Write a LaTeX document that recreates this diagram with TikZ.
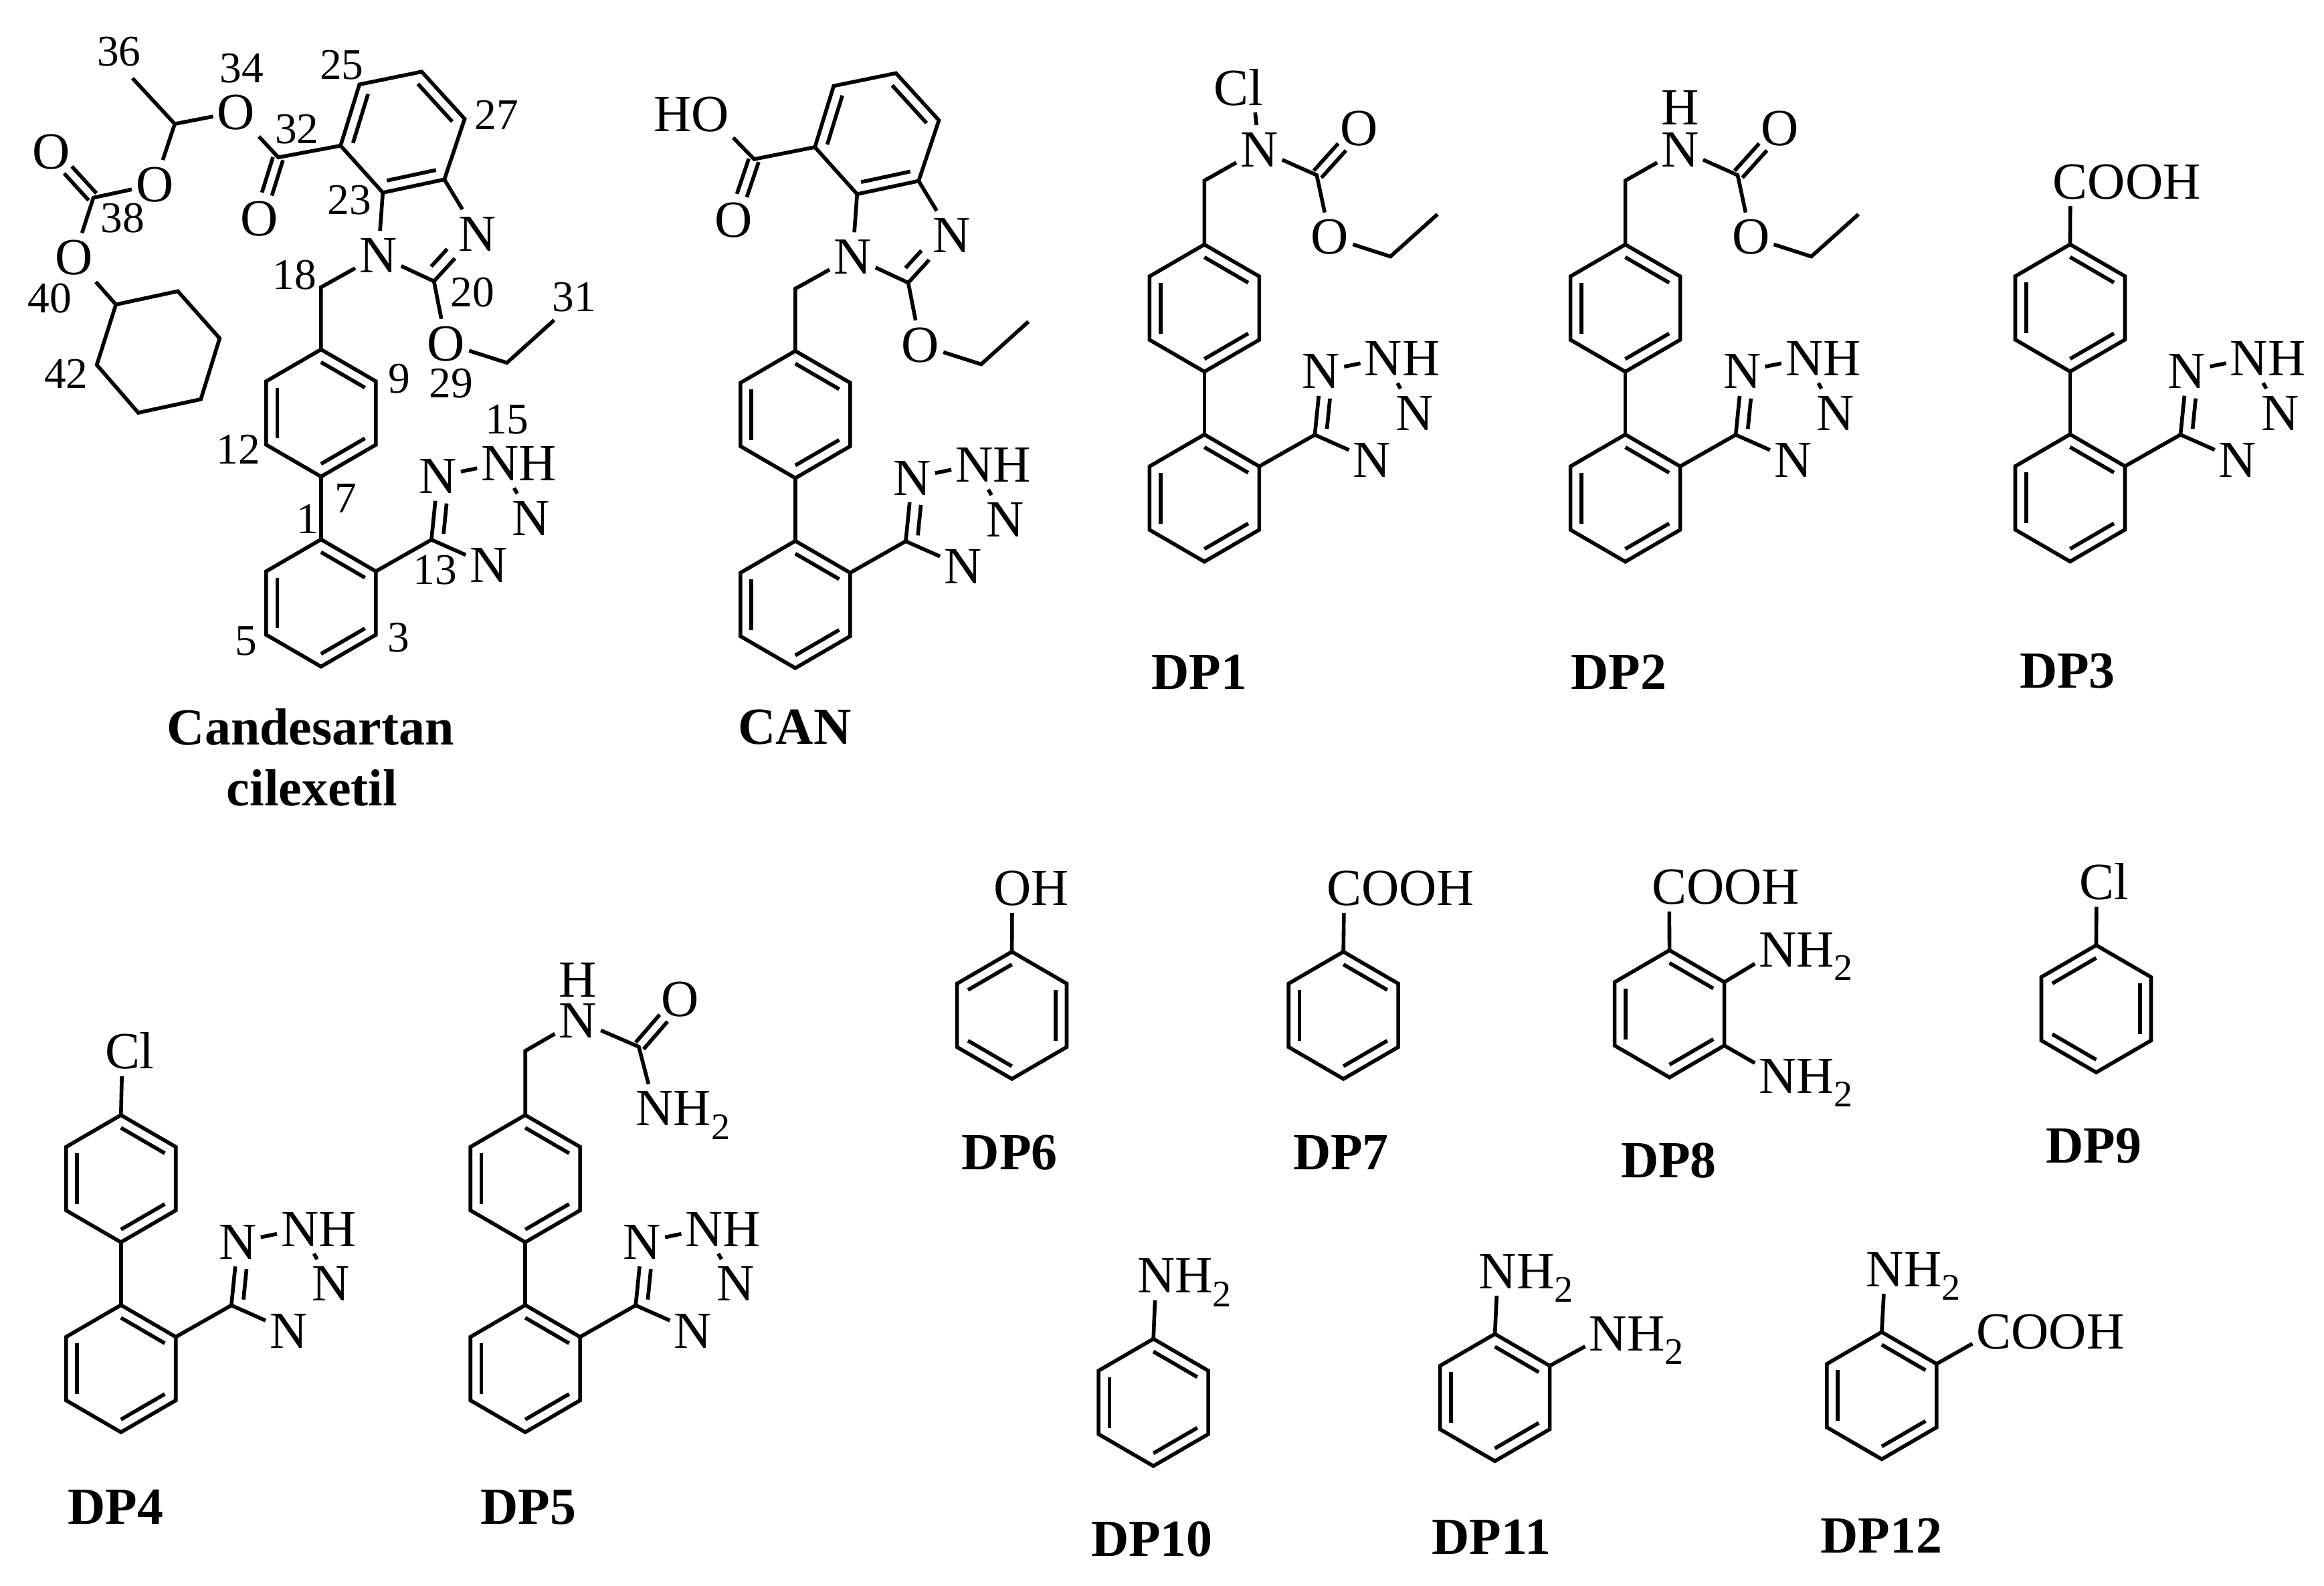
\documentclass[tikz,border=0pt]{standalone}
\usepackage{fontspec}
\setmainfont{Liberation Serif}
\usetikzlibrary{calc}
\usetikzlibrary{positioning}

\newcommand{\subtwo}{\raisebox{-2.6pt}{\fontsize{7.2}{7.2}\selectfont 2}}
\newcommand{\inbond}[3]{\draw[bond] ($(#1)!0.8!(#2)$) -- ($(#1)!0.8!(#3)$);}
% bond plus a shorter line beside it
\newcommand{\dbl}[5]{
	\draw[bond] (#1) -- (#2);
	\draw[bond] ($(#1)!#4!(#2)!#3!90:(#2)$) -- ($(#1)!#5!(#2)!#3!90:(#2)$);
}
% two lines either side of the axis, for C=O
\newcommand{\cdbl}[2]{
	\draw[bond] ($(#1)!0.02!(#2)!1pt!90:(#2)$) -- ($(#1)!0.6!(#2)!1pt!90:(#2)$);
	\draw[bond] ($(#1)!0.02!(#2)!-1pt!90:(#2)$) -- ($(#1)!0.6!(#2)!-1pt!90:(#2)$);
}
\newcommand{\ringsix}[4]{
	\begin{scope}[shift={(#2,#3)}]
		\coordinate (#1-o) at (0,0);
		\coordinate (#1-t) at (0,-42.9);
		\coordinate (#1-ur) at ({(#4)*37},-21.4);
		\coordinate (#1-lr) at ({(#4)*37},21.4);
		\coordinate (#1-bt) at (0,42.9);
		\coordinate (#1-ll) at ({(-1)*(#4)*37},21.4);
		\coordinate (#1-ul) at ({(-1)*(#4)*37},-21.4);
		\draw[bond] (#1-t) -- (#1-ur) -- (#1-lr) -- (#1-bt) -- (#1-ll) -- (#1-ul) -- cycle;
		\inbond{#1-o}{#1-t}{#1-ur}
		\inbond{#1-o}{#1-lr}{#1-bt}
		\inbond{#1-o}{#1-ll}{#1-ul}
	\end{scope}
}
\newcommand{\tetrazole}[3]{
	\begin{scope}[shift={(#2,#3)}]
		\coordinate (#1-c) at (0,0);
		\node[atom] (#1-n1) at (4.3,-42.8) {N};
		\node[atom] (#1-n2) at (46.3,-51.4) {N};
		\node[suffix,right=-0.8pt of #1-n2] (#1-h) {H};
		\node[atom] (#1-n3) at (67.3,-14.6) {N};
		\node[atom] (#1-n4) at (38.6,17.1) {N};
		\dbl{#1-c}{#1-n1}{-2.2pt}{0.11}{0.59}
		\draw[bond] (#1-n1) -- (#1-n2) -- (#1-n3);
		\draw[bond] (#1-c) -- (#1-n4);
	\end{scope}
}
\newcommand{\biphenyl}[3]{
	\ringsix{#1a}{#2}{#3}{1}
	\ringsix{#1b}{#2}{#3+128.2}{1}
	\tetrazole{#1t}{#2+74.5}{#3+85.5}
	\draw[bond] (#1a-bt) -- (#1b-t);
	\draw[bond] (#1b-ur) -- (#1t-c);
}
% benzimidazole, ethoxy and biphenyl part shared by the first two
\newcommand{\benzcore}[3]{
	\begin{scope}[shift={(#2,#3)}]
		\coordinate (#1-o) at (271.6,89.3);
		\coordinate (#1-a) at (242.5,57);
		\coordinate (#1-b) at (284.5,48.4);
		\coordinate (#1-c) at (313.5,80.2);
		\coordinate (#1-d) at (299.8,121.1);
		\coordinate (#1-e) at (258.3,130);
		\coordinate (#1-f) at (229.8,98.3);
		\draw[bond] (#1-a) -- (#1-b) -- (#1-c) -- (#1-d) -- (#1-e) -- (#1-f) -- cycle;
		\inbond{#1-o}{#1-a}{#1-f}
		\inbond{#1-o}{#1-b}{#1-c}
		\inbond{#1-o}{#1-d}{#1-e}
		\node[atom] (#1-n1) at (255.2,172.3) {N};
		\node[atom] (#1-n3) at (322,157.8) {N};
		\node[atom] (#1-ox) at (301,231.7) {O};
		\coordinate (#1-c2) at (292.8,189.8);
		\coordinate (#1-et) at (342,244.8);
		\coordinate (#1-me) at (373.9,216);
		\coordinate (#1-ch) at (216.6,193.8);
		\draw[bond] (#1-e) -- (#1-n1) -- (#1-c2) -- (#1-ox) -- (#1-et) -- (#1-me);
		\draw[bond] (#1-d) -- (#1-n3);
		\dbl{#1-c2}{#1-n3}{2.3pt}{0.14}{0.51}
		\biphenyl{#1}{216.6}{278.7}
		\draw[bond] (#1-n1) -- (#1-ch) -- (#1a-t);
	\end{scope}
}
% N-CH2 carbamate arm on the upper ring of a biphenyl
\newcommand{\carbamate}[3]{
	\begin{scope}[shift={(#2,#3)}]
		\coordinate (#1-ch) at (0,-86);
		\node[atom] (#1-n) at (37,-107) {N};
		\coordinate (#1-cc) at (75.8,-89.7);
		\node[atom] (#1-dbo) at (104.3,-121.4) {O};
		\node[atom] (#1-ox) at (84.7,-48) {O};
		\coordinate (#1-et) at (125.5,-34.8);
		\coordinate (#1-me) at (157.3,-63.3);
		\draw[bond] (#1a-t) -- (#1-ch) -- (#1-n) -- (#1-cc) -- (#1-ox) -- (#1-et) -- (#1-me);
		\cdbl{#1-cc}{#1-dbo}
	\end{scope}
}

\begin{document}
\begin{tikzpicture}
	[x=0.01cm, y=-0.01cm,
	bond/.style = {line width=0.72pt},
	atom/.style = {inner sep=0pt, outer xsep=0.8pt, outer ysep=1.4pt, text height=6.6pt, text depth=0pt, font=\fontsize{10}{10}\selectfont},
	suffix/.style = {atom, outer xsep=0pt},
	locant/.style = {inner sep=0pt, font=\fontsize{8.4}{9}\selectfont},
	cpdname/.style = {inner sep=0pt, anchor=base, font=\fontsize{10}{10}\selectfont\bfseries}
	]
	\useasboundingbox (0,0) rectangle (1568,1070);

	% Candesartan cilexetil
	\benzcore{cc}{0}{0}
	\coordinate (cc-co) at (187.8,106.2);
	\coordinate (cc-hc) at (117.9,83.6);
	\coordinate (cc-ma) at (89.4,52.8);
	\coordinate (cc-cb) at (63,133.4);
	\node[atom] (cc-o1) at (174.9,147.5) {O};
	\node[atom] (cc-o2) at (159.3,75.6) {O};
	\node[atom] (cc-o3) at (104.4,124.5) {O};
	\node[atom] (cc-o4) at (34.5,102.2) {O};
	\node[atom] (cc-o5) at (50,173.7) {O};
	\coordinate (h1) at (78.2,205.5);
	\coordinate (h2) at (120,196.5);
	\coordinate (h3) at (148.2,228.3);
	\coordinate (h4) at (135.5,269.4);
	\coordinate (h5) at (93.3,278.5);
	\coordinate (h6) at (65.3,246.2);
	\draw[bond] (h1) -- (h2) -- (h3) -- (h4) -- (h5) -- (h6) -- cycle;
	\draw[bond] (cc-f) -- (cc-co) -- (cc-o2) -- (cc-hc) -- (cc-o3) -- (cc-cb) -- (cc-o5) -- (h1);
	\draw[bond] (cc-ma) -- (cc-hc);
	\cdbl{cc-co}{cc-o1}
	\cdbl{cc-cb}{cc-o4}
	\foreach \lnum/\lx/\ly in {36/80.3/34.7, 34/163.2/46.3, 25/230.6/43.9, 27/335/77.6, 32/200.3/87,
		38/82.9/147.1, 23/235.8/135, 18/198.7/185.4, 20/318.7/197.1, 31/387.4/200.5, 40/33.7/201.5,
		42/44.6/252.3, 29/304.4/258.9, 9/269.5/255.5, 15/342/283.1, 12/160.7/303.3, 7/233.1/336.3,
		1/207.4/350.4, 13/293.4/384.6, 3/268.8/430.4, 5/166/432.4}
		\node[locant] (loc\lnum) at (\lx,\ly) {\lnum};

	% CAN
	\benzcore{can}{320}{1}
	\coordinate (can-co) at (508.8,107.4);
	\node[atom] (can-oh) at (479.2,77) {O};
	\node[suffix,left=-0.8pt of can-oh] (can-h) {H};
	\node[atom] (can-dbo) at (495,148.3) {O};
	\draw[bond] (can-f) -- (can-co) -- (can-oh);
	\cdbl{can-co}{can-dbo}

	% DP1 and DP2
	\biphenyl{pa}{812.6}{207.9}
	\carbamate{pa}{812.6}{207.9}
	\node[atom] (pa-cl) at (835.7,59.4) {Cl};
	\draw[bond] (pa-n) -- (pa-cl.-56);
	\biphenyl{pb}{1096.6}{207.9}
	\carbamate{pb}{1096.6}{207.9}
	\node[atom] (pb-h) at (1133.6,72.5) {H};

	% DP3
	\biphenyl{pc}{1396.7}{207.8}
	\node[atom] (pc-co) at (1396.9,122.5) {C};
	\node[suffix,right=-0.8pt of pc-co] (pc-oh) {OOH};
	\draw[bond] (pca-t) -- (pc-co);

	% DP4
	\biphenyl{pd}{81.6}{795.3}
	\node[atom] (pd-cl) at (82.6,709.6) {C};
	\node[suffix,right=-0.8pt of pd-cl] (pd-l) {l};
	\draw[bond] (pda-t) -- (pd-cl);

	% DP5
	\biphenyl{pe}{354.4}{795.3}
	\coordinate (pe-ch) at (354.4,709.1);
	\coordinate (pe-cc) at (431,706.3);
	\node[atom] (pe-n) at (389.9,688.6) {N};
	\node[atom] (pe-h) at (389.9,661) {H};
	\node[atom] (pe-dbo) at (458.9,674.1) {O};
	\node[atom] (pe-nh) at (441.8,748) {N};
	\node[suffix,right=-0.8pt of pe-nh] (pe-hh) {H\subtwo};
	\draw[bond] (pea-t) -- (pe-ch) -- (pe-n) -- (pe-cc) -- (pe-nh);
	\cdbl{pe-cc}{pe-dbo}

	% DP6 and DP7
	\ringsix{pf}{682.7}{685.1}{-1}
	\node[atom] (pf-o) at (683,599.5) {O};
	\node[suffix,right=-0.8pt of pf-o] (pf-h) {H};
	\draw[bond] (pf-t) -- (pf-o);
	\ringsix{pg}{906.4}{685.1}{1}
	\node[atom] (pg-co) at (906.9,599.5) {C};
	\node[suffix,right=-0.8pt of pg-co] (pg-oh) {OOH};
	\draw[bond] (pg-t) -- (pg-co);

	% DP8 and DP9
	\ringsix{ph}{1126.4}{684.1}{1}
	\node[atom] (ph-co) at (1126.2,598.5) {C};
	\node[suffix,right=-0.8pt of ph-co] (ph-oh) {OOH};
	\node[atom] (ph-n1) at (1199.5,640.9) {N};
	\node[suffix,right=-0.8pt of ph-n1] (ph-h1) {H\subtwo};
	\node[atom] (ph-n2) at (1199.5,726.2) {N};
	\node[suffix,right=-0.8pt of ph-n2] (ph-h2) {H\subtwo};
	\draw[bond] (ph-t) -- (ph-co);
	\draw[bond] (ph-ur) -- (ph-n1);
	\draw[bond] (ph-lr) -- (ph-n2);
	\ringsix{pi}{1414.3}{680.7}{-1}
	\node[atom] (pi-cl) at (1414.6,595.3) {C};
	\node[suffix,right=-0.8pt of pi-cl] (pi-l) {l};
	\draw[bond] (pi-t) -- (pi-cl);

	% DP10 to DP12
	\ringsix{pj}{778.2}{946.3}{1}
	\node[atom] (pj-n) at (780,860.8) {N};
	\node[suffix,right=-0.8pt of pj-n] (pj-h) {H\subtwo};
	\draw[bond] (pj-t) -- (pj-n);
	\ringsix{pk}{1008.6}{943}{1}
	\node[atom] (pk-n1) at (1010.6,857.8) {N};
	\node[suffix,right=-0.8pt of pk-n1] (pk-h1) {H\subtwo};
	\node[atom] (pk-n2) at (1085,900) {N};
	\node[suffix,right=-0.8pt of pk-n2] (pk-h2) {H\subtwo};
	\draw[bond] (pk-t) -- (pk-n1);
	\draw[bond] (pk-ur) -- (pk-n2);
	\ringsix{pl}{1269.6}{941.7}{1}
	\node[atom] (pl-n) at (1271.9,856.5) {N};
	\node[suffix,right=-0.8pt of pl-n] (pl-h) {H\subtwo};
	\node[atom] (pl-co) at (1345.3,898.4) {C};
	\node[suffix,right=-0.8pt of pl-co] (pl-oh) {OOH};
	\draw[bond] (pl-t) -- (pl-n);
	\draw[bond] (pl-ur) -- (pl-co);

	% compound names
	\node[cpdname] (name1) at (209.5,502.5) {Candesartan};
	\node[cpdname] (name2) at (210.5,543.8) {cilexetil};
	\foreach \cpd/\cx/\cy in {CAN/536.2/502.3, DP1/809.2/465, DP2/1092.2/465, DP3/1394.9/464,
		DP4/78/1028.3, DP5/356.6/1028.3, DP6/681.2/789.2, DP7/904.7/789.2, DP8/1125.9/794.7,
		DP9/1412.7/784.7, DP10/777.2/1050.2, DP11/1006.2/1048.7, DP12/1269.4/1047.6}
		\node[cpdname] (name\cpd) at (\cx,\cy) {\cpd};
\end{tikzpicture}
\end{document}
